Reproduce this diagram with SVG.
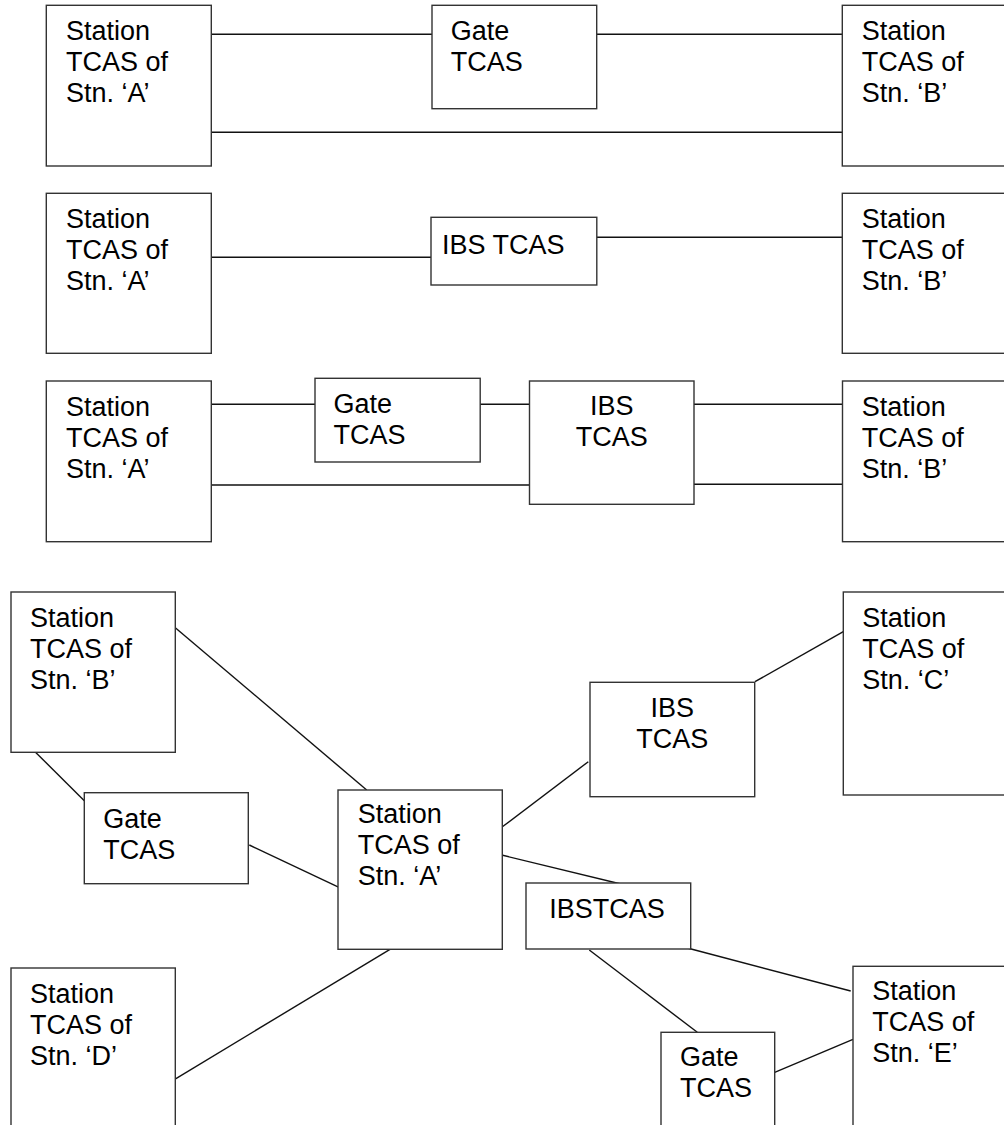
<svg xmlns="http://www.w3.org/2000/svg" width="1004" height="1125" viewBox="0 0 1004 1125">
<style>
.box{fill:#fff;stroke:#333;stroke-width:1.4}
.ln{stroke:#111;stroke-width:1.4;fill:none}
text{font-family:"Liberation Sans",Arial,sans-serif;font-size:27px;fill:#000}
.c{text-anchor:middle}
</style>
<rect width="1004" height="1125" fill="#fff"/>
<g id="connectors">
<line class="ln" x1="211" y1="34.3" x2="432" y2="34.3"/>
<line class="ln" x1="597" y1="34.3" x2="842" y2="34.3"/>
<line class="ln" x1="209" y1="132.3" x2="842" y2="132.3"/>
<line class="ln" x1="211" y1="257.3" x2="431" y2="257.3"/>
<line class="ln" x1="597" y1="237.3" x2="844" y2="237.3"/>
<line class="ln" x1="211" y1="404.3" x2="315" y2="404.3"/>
<line class="ln" x1="480" y1="404.3" x2="529.5" y2="404.3"/>
<line class="ln" x1="694" y1="404.3" x2="842.5" y2="404.3"/>
<line class="ln" x1="211" y1="485" x2="529.5" y2="485"/>
<line class="ln" x1="694" y1="484.3" x2="842.5" y2="484.3"/>
<line class="ln" x1="175.3" y1="627.7" x2="366.7" y2="790"/>
<line class="ln" x1="35" y1="751.7" x2="84.3" y2="800.7"/>
<line class="ln" x1="249.3" y1="845" x2="339" y2="887.3"/>
<line class="ln" x1="501.7" y1="827.3" x2="588.3" y2="761.7"/>
<line class="ln" x1="755" y1="681.7" x2="843.3" y2="631.7"/>
<line class="ln" x1="498.5" y1="854.3" x2="625" y2="885"/>
<line class="ln" x1="390" y1="949.3" x2="174.7" y2="1079.3"/>
<line class="ln" x1="688.3" y1="948.3" x2="850.7" y2="991"/>
<line class="ln" x1="589.3" y1="950" x2="697.3" y2="1032.3"/>
<line class="ln" x1="774.7" y1="1072.3" x2="853" y2="1039.3"/>
</g>
<g id="s1-stationA"><rect class="box" x="46.3" y="5.3" width="165" height="160.7"/><text x="66" y="40">Station</text><text x="66" y="71">TCAS of</text><text x="66" y="102">Stn. ‘A’</text></g>
<g id="s1-gate"><rect class="box" x="432" y="5.3" width="164.7" height="103.4"/><text x="450.7" y="40">Gate</text><text x="450.7" y="71">TCAS</text></g>
<g id="s1-stationB"><rect class="box" x="842.3" y="5.3" width="170" height="160.7"/><text x="861.7" y="40">Station</text><text x="861.7" y="71">TCAS of</text><text x="861.7" y="102">Stn. ‘B’</text></g>
<g id="s2-stationA"><rect class="box" x="46.3" y="193.3" width="165" height="160"/><text x="66" y="228">Station</text><text x="66" y="259">TCAS of</text><text x="66" y="290">Stn. ‘A’</text></g>
<g id="s2-ibs"><rect class="box" x="431" y="217.3" width="165.8" height="67.7"/><text x="442" y="254">IBS TCAS</text></g>
<g id="s2-stationB"><rect class="box" x="842.3" y="193.3" width="170" height="160"/><text x="861.7" y="228">Station</text><text x="861.7" y="259">TCAS of</text><text x="861.7" y="290">Stn. ‘B’</text></g>
<g id="s3-stationA"><rect class="box" x="46.3" y="381" width="165" height="160.7"/><text x="66" y="415.7">Station</text><text x="66" y="446.7">TCAS of</text><text x="66" y="477.7">Stn. ‘A’</text></g>
<g id="s3-gate"><rect class="box" x="315" y="378.3" width="165.2" height="83.7"/><text x="333.6" y="413">Gate</text><text x="333.6" y="444">TCAS</text></g>
<g id="s3-ibs"><rect class="box" x="529.5" y="381" width="164.5" height="123.3"/><text class="c" x="611.7" y="415">IBS</text><text class="c" x="611.7" y="446">TCAS</text></g>
<g id="s3-stationB"><rect class="box" x="842.5" y="381" width="170" height="160.7"/><text x="861.7" y="415.7">Station</text><text x="861.7" y="446.7">TCAS of</text><text x="861.7" y="477.7">Stn. ‘B’</text></g>
<g id="s4-stationB"><rect class="box" x="11" y="592" width="164.3" height="160.3"/><text x="30" y="626.7">Station</text><text x="30" y="657.7">TCAS of</text><text x="30" y="688.7">Stn. ‘B’</text></g>
<g id="s4-gate1"><rect class="box" x="84.3" y="792.7" width="164" height="91"/><text x="103.3" y="828.3">Gate</text><text x="103.3" y="859.3">TCAS</text></g>
<g id="s4-stationA"><rect class="box" x="338" y="790" width="164.3" height="159.3"/><text x="357.7" y="823.3">Station</text><text x="357.7" y="854.3">TCAS of</text><text x="357.7" y="885.3">Stn. ‘A’</text></g>
<g id="s4-ibs"><rect class="box" x="590" y="682.3" width="164.7" height="114.4"/><text class="c" x="672.3" y="716.7">IBS</text><text class="c" x="672.3" y="747.7">TCAS</text></g>
<g id="s4-stationC"><rect class="box" x="843.3" y="592" width="170" height="203"/><text x="862.3" y="626.7">Station</text><text x="862.3" y="657.7">TCAS of</text><text x="862.3" y="688.7">Stn. ‘C’</text></g>
<g id="s4-ibstcas"><rect class="box" x="526" y="883" width="164.7" height="66"/><text x="549.3" y="917.7">IBSTCAS</text></g>
<g id="s4-stationD"><rect class="box" x="11" y="968" width="164.3" height="170"/><text x="30" y="1002.7">Station</text><text x="30" y="1033.7">TCAS of</text><text x="30" y="1064.7">Stn. ‘D’</text></g>
<g id="s4-gate2"><rect class="box" x="661" y="1032.3" width="113.7" height="110"/><text x="680" y="1065.7">Gate</text><text x="680" y="1097">TCAS</text></g>
<g id="s4-stationE"><rect class="box" x="853" y="966.3" width="170" height="170"/><text x="872.3" y="1000">Station</text><text x="872.3" y="1031">TCAS of</text><text x="872.3" y="1062">Stn. ‘E’</text></g>
</svg>
